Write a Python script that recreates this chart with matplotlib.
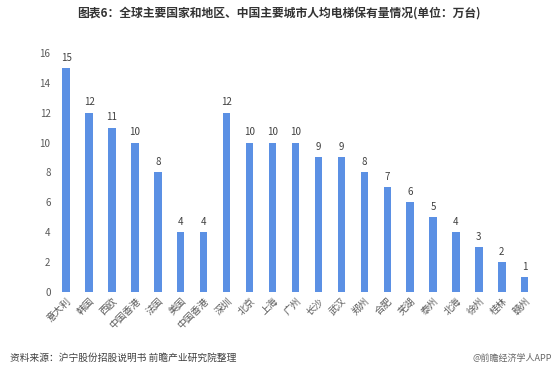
import matplotlib.pyplot as plt
from matplotlib.transforms import ScaledTranslation

plt.rcParams['font.family'] = ['Noto Sans CJK SC', 'DejaVu Sans']

regions = ["意大利", "韩国", "西欧", "中国香港", "法国", "美国", "中国香港", "深圳", "北京", "上海",
           "广州", "长沙", "武汉", "郑州", "合肥", "芜湖", "泰州", "北海", "徐州", "桂林", "赣州"]
values = [15, 12, 11, 10, 8, 4, 4, 12, 10, 10, 10, 9, 9, 8, 7, 6, 5, 4, 3, 2, 1]
yticks = [0, 2, 4, 6, 8, 10, 12, 14, 16]

fig = plt.figure(figsize=(5.58, 3.81), dpi=100)
ax = fig.add_axes([0.098, 0.234, 0.863, 0.627])

xs = list(range(len(values)))
ax.bar(xs, values, width=0.32, color="#5b90e4")
for x, v in zip(xs, values):
    ax.text(x, v + 0.35, str(v), ha="center", va="bottom", fontsize=7, color="#404040")

ax.set_xlim(-0.5, len(values) - 0.5)
ax.set_ylim(0, 16)
ax.set_yticks(yticks)
ax.set_yticklabels([str(t) for t in yticks], fontsize=7, color="#595959")
ax.set_xticks(xs)
ax.set_xticklabels(regions, rotation=45, ha="right", rotation_mode="anchor", fontsize=7, color="#595959")
shift = ScaledTranslation(-6 / 100, 0, fig.dpi_scale_trans)
for lbl in ax.get_xticklabels():
    lbl.set_transform(lbl.get_transform() + shift)
ax.tick_params(length=0, pad=3)
for s in ax.spines.values():
    s.set_visible(False)

fig.text(0.5, 0.965, "图表6：全球主要国家和地区、中国主要城市人均电梯保有量情况(单位：万台)",
         ha="center", va="center", fontsize=8.5, fontweight="bold", color="#333333")
fig.text(0.018, 0.06, "资料来源：沪宁股份招股说明书 前瞻产业研究院整理",
         ha="left", va="center", fontsize=7, color="#404040")
fig.text(0.99, 0.058, "@前瞻经济学人APP", ha="right", va="center", fontsize=6.5, color="#666666")

fig.savefig("out.png", dpi=100)
